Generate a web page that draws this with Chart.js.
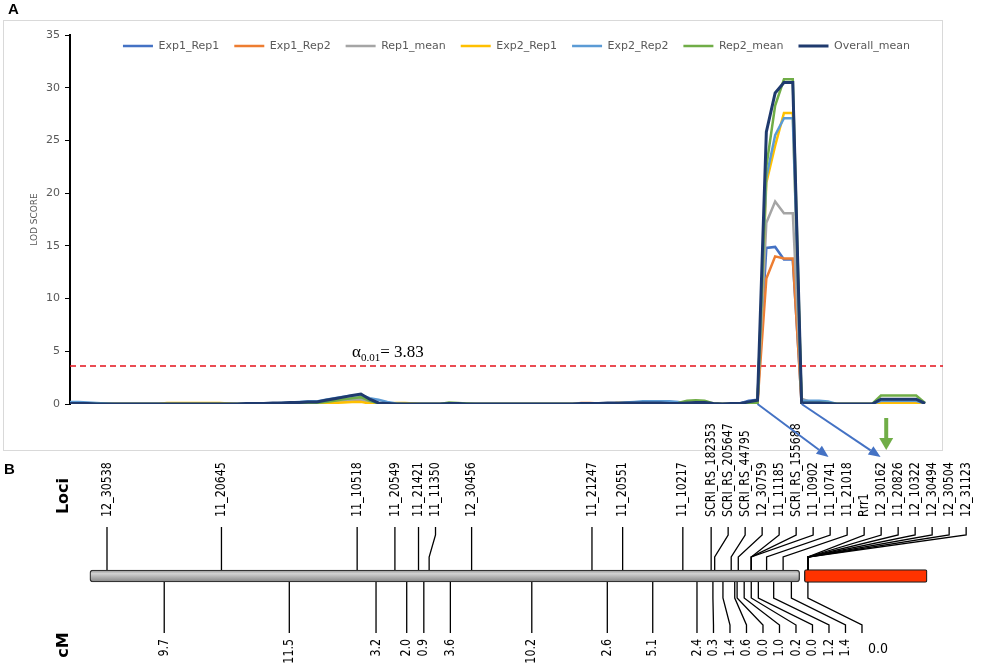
<!DOCTYPE html>
<html>
<head>
<meta charset="utf-8">
<script src="https://cdn.jsdelivr.net/npm/chart.js@4.4.0/dist/chart.umd.min.js"></script>
<style>
body { margin: 0; background: #fff; width: 1000px; height: 668px; position: relative; overflow: hidden; }
#box { position: absolute; left: 3px; top: 20px; width: 938px; height: 429px; border: 1px solid #d9d9d9; }
#top { position: absolute; left: 0; top: 0; width: 1000px; height: 470px; }
#bottom { position: absolute; left: 0; top: 400px; width: 1000px; height: 268px; }
.panel { position: absolute; font: bold 15px "Liberation Sans", Arial, sans-serif; color: #000; }
</style>
</head>
<body>
<div id="box"></div>
<div id="bottom"><canvas id="mapChart"></canvas></div>
<div id="top"><canvas id="lodChart"></canvas></div>
<div class="panel" style="left:8px;top:0px">A</div>
<div class="panel" style="left:4px;top:460px">B</div>
<script>
// ---- LOD profile (A) : 98 scan positions ----
var exp1_rep1 = [
    0, 0, 0, 0, 0, 0, 0, 0, 0, 0, 0, 0, 0, 0,
    0, 0, 0, 0, 0, 0, 0, 0, 0, 0, 0, 0.05, 0.1, 0.1,
    0.1, 0.2, 0.3, 0.4, 0.45, 0.5, 0.2, 0.05, 0, 0, 0, 0, 0, 0,
    0, 0, 0, 0, 0, 0, 0, 0, 0, 0, 0, 0, 0, 0,
    0, 0, 0, 0, 0, 0.05, 0.05, 0.05, 0.05, 0.05, 0, 0, 0, 0,
    0, 0, 0, 0, 0, 0, 0.05, 0.3, 0.4, 14.8, 14.9, 13.7, 13.7, 0.1,
    0.05, 0, 0, 0, 0, 0, 0, 0, 0.3, 0.3, 0.3, 0.3, 0.3, 0
];
var exp1_rep2 = [
    0, 0, 0, 0, 0, 0, 0, 0, 0, 0, 0, 0, 0, 0,
    0, 0, 0, 0, 0, 0, 0, 0, 0, 0, 0, 0, 0.05, 0.05,
    0.05, 0.1, 0.2, 0.25, 0.35, 0.4, 0.1, 0, 0, 0, 0, 0, 0, 0,
    0, 0, 0, 0, 0, 0, 0, 0, 0, 0, 0, 0, 0, 0,
    0, 0, 0.1, 0.1, 0.05, 0, 0, 0, 0, 0, 0, 0, 0, 0,
    0, 0, 0, 0, 0, 0, 0, 0.05, 0.1, 11.9, 14.0, 13.8, 13.8, 0,
    0, 0, 0, 0, 0, 0, 0, 0, 0.2, 0.2, 0.2, 0.2, 0.2, 0
];
var rep1_mean = [
    0, 0, 0, 0, 0, 0, 0, 0, 0, 0, 0, 0, 0, 0,
    0, 0, 0, 0, 0, 0, 0, 0, 0, 0, 0, 0.05, 0.05, 0.05,
    0.1, 0.15, 0.25, 0.3, 0.4, 0.45, 0.15, 0.05, 0, 0, 0, 0, 0, 0,
    0, 0, 0, 0, 0, 0, 0, 0, 0, 0, 0, 0, 0, 0,
    0, 0, 0.05, 0.05, 0.05, 0.05, 0.05, 0, 0, 0, 0, 0, 0, 0,
    0, 0, 0, 0, 0, 0, 0.05, 0.15, 0.25, 17.2, 19.2, 18.1, 18.1, 0.5,
    0.2, 0.05, 0, 0, 0, 0, 0, 0, 0.25, 0.25, 0.25, 0.25, 0.25, 0
];
var exp2_rep1 = [
    0, 0, 0, 0, 0, 0, 0, 0, 0, 0, 0, 0.1, 0.1, 0.1,
    0.1, 0.1, 0.1, 0.1, 0.05, 0, 0, 0, 0, 0, 0, 0, 0, 0,
    0, 0.05, 0.1, 0.15, 0.2, 0.2, 0.05, 0, 0.05, 0.1, 0.1, 0.05, 0, 0,
    0, 0, 0, 0, 0, 0, 0, 0, 0, 0, 0, 0, 0, 0,
    0, 0, 0, 0, 0, 0, 0.1, 0.1, 0.1, 0.1, 0.1, 0.1, 0, 0,
    0, 0, 0, 0, 0, 0, 0, 0, 0.05, 21.0, 24.5, 27.6, 27.6, 0,
    0, 0, 0, 0, 0, 0, 0, 0, 0.05, 0.05, 0.05, 0.05, 0.05, 0
];
var exp2_rep2 = [
    0.2, 0.2, 0.15, 0.1, 0.05, 0, 0, 0, 0, 0, 0, 0, 0, 0,
    0, 0, 0, 0, 0, 0, 0, 0, 0, 0.05, 0.1, 0.15, 0.2, 0.25,
    0.25, 0.4, 0.55, 0.7, 0.8, 0.85, 0.55, 0.4, 0.2, 0.05, 0, 0, 0, 0,
    0, 0, 0, 0, 0, 0, 0, 0, 0, 0, 0, 0, 0, 0,
    0, 0, 0, 0, 0, 0, 0.05, 0.15, 0.2, 0.25, 0.25, 0.25, 0.25, 0.2,
    0.05, 0, 0, 0, 0, 0, 0.05, 0.2, 0.3, 21.5, 25.5, 27.1, 27.1, 0.3,
    0.3, 0.3, 0.25, 0, 0, 0, 0, 0, 0.3, 0.3, 0.3, 0.3, 0.3, 0.05
];
var rep2_mean = [
    0, 0, 0, 0, 0, 0, 0, 0, 0, 0, 0, 0, 0, 0,
    0, 0, 0, 0, 0, 0, 0, 0, 0, 0, 0, 0, 0.05, 0.05,
    0.1, 0.2, 0.3, 0.45, 0.55, 0.65, 0.3, 0.05, 0, 0, 0, 0, 0, 0,
    0, 0.15, 0.1, 0.05, 0, 0, 0, 0, 0, 0, 0, 0, 0, 0,
    0, 0, 0, 0, 0, 0, 0, 0, 0, 0, 0, 0, 0, 0.1,
    0.3, 0.35, 0.3, 0.05, 0, 0, 0, 0.05, 0.1, 22.5, 28.3, 30.8, 30.8, 0.1,
    0.1, 0.1, 0.1, 0, 0, 0, 0, 0, 0.8, 0.8, 0.8, 0.8, 0.8, 0.1
];
var overall_mean = [
    0.05, 0.05, 0.05, 0, 0, 0, 0, 0, 0, 0, 0, 0, 0, 0,
    0, 0, 0, 0, 0, 0, 0.05, 0.05, 0.05, 0.1, 0.1, 0.15, 0.15, 0.2,
    0.2, 0.35, 0.5, 0.65, 0.8, 0.95, 0.45, 0.1, 0.05, 0, 0, 0, 0, 0,
    0, 0.05, 0.05, 0, 0, 0, 0, 0, 0, 0, 0, 0, 0, 0,
    0, 0, 0.05, 0.05, 0.05, 0.1, 0.1, 0.1, 0.1, 0.1, 0.1, 0.1, 0.05, 0.05,
    0.1, 0.15, 0.15, 0.05, 0, 0.05, 0.05, 0.2, 0.35, 25.8, 29.5, 30.5, 30.5, 0.1,
    0.1, 0.1, 0.05, 0, 0, 0, 0, 0, 0.45, 0.45, 0.45, 0.45, 0.45, 0.05
];
var series_names = ['Exp1_Rep1', 'Exp1_Rep2', 'Rep1_mean', 'Exp2_Rep1', 'Exp2_Rep2', 'Rep2_mean', 'Overall_mean'];
var series_colors = ['#4472C4', '#ED7D31', '#A5A5A5', '#FFC000', '#5B9BD5', '#70AD47', '#1F3A6E'];
var threshold = 3.6;          // where the dashed line sits in the figure
var threshold_text = '3.83';
var alpha_at = 32;            // scan position where the alpha label starts
var arrow_from = [78, 83];    // peak flanks the blue arrows start from
var green_arrow_at = 92.6;

// ---- linkage map (B) ----
var loci_names = ['12_30538', '11_20645', '11_10518', '11_20549', '11_21421', '11_11350', '12_30456',
    '11_21247', '11_20551', '11_10217', 'SCRI_RS_182353', 'SCRI_RS_205647', 'SCRI_RS_44795',
    '12_30759', '11_11185', 'SCRI_RS_155688', '11_10902', '11_10741', '11_21018', 'Rrr1',
    '12_30162', '11_20826', '12_10322', '12_30494', '12_30504', '12_31123'];
var loci_cm = [0, 9.7, 21.2, 24.4, 26.4, 27.3, 30.9, 41.1, 43.7, 48.8, 51.2, 51.5, 52.9,
    53.5, 54.6, 54.6, 54.6, 55.9, 57.3, 59.4, 59.4, 59.4, 59.4, 59.4, 59.4, 59.4];
var interval_labels = ['9.7', '11.5', '3.2', '2.0', '0.9', '3.6', '10.2', '2.6', '5.1', '2.4', '0.3',
    '1.4', '0.6', '0.0', '1.0', '0.2', '0.0', '1.2', '1.4', '0.0'];
var interval_cm = [4.85, 15.45, 22.8, 25.4, 26.85, 29.1, 36.0, 42.4, 46.25, 50.0, 51.35, 52.2,
    53.2, 53.4, 54.0, 54.6, 55.2, 56.5, 58.0, 59.4];
var chromosome = [-1.45, 58.7];
var rrr1_region = [59.1, 69.5];

Chart.defaults.font.family = '"DejaVu Sans", sans-serif';
Chart.defaults.animation = false;

function spread(desired, gap) {
    var out = [];
    desired.forEach(function (d, i) {
        out.push(i ? Math.max(d, out[i - 1] + gap) : d);
    });
    return out;
}

function arrow(ctx, x1, y1, x2, y2, color, w, head, headW) {
    var ang = Math.atan2(y2 - y1, x2 - x1);
    var bx = x2 - head * Math.cos(ang), by = y2 - head * Math.sin(ang);
    ctx.strokeStyle = color;
    ctx.fillStyle = color;
    ctx.lineWidth = w;
    ctx.beginPath();
    ctx.moveTo(x1, y1);
    ctx.lineTo(bx, by);
    ctx.stroke();
    ctx.beginPath();
    ctx.moveTo(x2, y2);
    ctx.lineTo(bx + headW / 2 * Math.sin(ang), by - headW / 2 * Math.cos(ang));
    ctx.lineTo(bx - headW / 2 * Math.sin(ang), by + headW / 2 * Math.cos(ang));
    ctx.closePath();
    ctx.fill();
}

//-------------
//- LOD CHART -
//-------------
var lodExtras = {
    id: 'lodExtras',
    afterLayout: function (chart) {
        // legend sits inside the plot, like the Excel original
        var lg = chart.legend;
        lg.top -= 8.5;
        lg.height = 40;
        lg.bottom = lg.top + 40;
    },
    beforeDatasetsDraw: function (chart) {
        var ctx = chart.ctx, a = chart.chartArea;
        var ty = chart.scales.y.getPixelForValue(threshold);
        ctx.save();
        ctx.strokeStyle = '#E3121B';
        ctx.lineWidth = 1.5;
        ctx.setLineDash([6, 4]);
        ctx.beginPath();
        ctx.moveTo(a.left, ty);
        ctx.lineTo(a.right + 18, ty);
        ctx.stroke();
        ctx.restore();
    },
    afterDraw: function (chart) {
        var ctx = chart.ctx, xs = chart.scales.x, ys = chart.scales.y;
        var ty = ys.getPixelForValue(threshold), y0 = ys.getPixelForValue(0);
        ctx.save();
        // alpha label
        var x = xs.getPixelForValue(alpha_at), base = ty - 9;
        ctx.fillStyle = '#000';
        ctx.textBaseline = 'alphabetic';
        ctx.textAlign = 'left';
        ctx.font = '17px "Liberation Serif", "DejaVu Serif", serif';
        ctx.fillText('\u03b1', x, base);
        x += ctx.measureText('\u03b1').width;
        ctx.font = '11px "Liberation Serif", "DejaVu Serif", serif';
        ctx.fillText('0.01', x, base + 4);
        x += ctx.measureText('0.01').width;
        ctx.font = '17px "Liberation Serif", "DejaVu Serif", serif';
        ctx.fillText('= ' + threshold_text, x, base);
        // arrows to the map
        var p1 = xs.getPixelForValue(arrow_from[0]), p2 = xs.getPixelForValue(arrow_from[1]);
        arrow(ctx, p1, y0, p1 + 71, y0 + 53, '#4472C4', 2, 12, 10);
        arrow(ctx, p2, y0, p2 + 79, y0 + 53, '#4472C4', 2, 12, 10);
        var g = xs.getPixelForValue(green_arrow_at);
        arrow(ctx, g, y0 + 14, g, y0 + 46, '#70AD47', 4, 12, 14);
        ctx.restore();
    }
};

var lodCanvas = document.getElementById('lodChart').getContext('2d');
var lodData = [exp1_rep1, exp1_rep2, rep1_mean, exp2_rep1, exp2_rep2, rep2_mean, overall_mean];

new Chart(lodCanvas, {
    type: 'line',
    data: {
        labels: overall_mean.map(function (v, i) { return i; }),
        datasets: lodData.map(function (d, i) {
            return {
                label: series_names[i],
                data: d,
                borderColor: series_colors[i],
                backgroundColor: series_colors[i],
                borderWidth: i === 6 ? 3 : 2.5,
                pointRadius: 0,
                tension: 0,
                order: 7 - i
            };
        })
    },
    options: {
        responsive: true,
        maintainAspectRatio: false,
        events: [],
        layout: { padding: { left: 22, right: 75, top: 34, bottom: 66 } },
        scales: {
            x: { type: 'category', display: false },
            y: {
                min: 0,
                max: 35,
                afterFit: function (s) { s.width = 48; },
                ticks: { stepSize: 5, color: '#595959', font: { size: 11 }, padding: 5 },
                grid: { drawOnChartArea: false, drawTicks: true, tickLength: 5, color: '#000' },
                border: { display: true, color: '#000', width: 2 },
                title: { display: true, text: 'LOD SCORE', color: '#595959', font: { size: 9 }, padding: { top: 7, bottom: 0 } }
            }
        },
        plugins: {
            tooltip: { enabled: false },
            legend: {
                position: 'top',
                fullSize: false,
                align: 'end',
                maxHeight: 1,
                labels: {
                    usePointStyle: true,
                    pointStyle: 'line',
                    pointStyleWidth: 30,
                    padding: 15,
                    color: '#595959',
                    font: { size: 11 },
                    sort: function (a, b) { return a.datasetIndex - b.datasetIndex; }
                }
            }
        }
    },
    plugins: [lodExtras]
});

//-------------
//-  MAP      -
//-------------
var mapLabels = {
    id: 'mapLabels',
    afterDatasetsDraw: function (chart) {
        var ctx = chart.ctx, xs = chart.scales.x;
        var bar = chart.getDatasetMeta(0).data[0];
        var yc = bar.y, top = yc - bar.height / 2, bot = yc + bar.height / 2;
        var lociX = loci_cm.map(function (v) { return xs.getPixelForValue(v); });
        var lociLX = spread(lociX, 17);
        var cmX = interval_cm.map(function (v) { return xs.getPixelForValue(v); });
        var cmLX = spread(cmX, 16.5);

        ctx.save();
        ctx.strokeStyle = '#000';
        ctx.fillStyle = '#000';
        ctx.lineWidth = 1.3;
        ctx.font = '14px "DejaVu Sans Condensed", "DejaVu Sans", sans-serif';
        loci_names.forEach(function (name, i) {
            var lx = lociLX[i], bx = lociX[i];
            ctx.beginPath();
            ctx.moveTo(lx, top - 43);
            ctx.lineTo(lx, top - 35);
            ctx.lineTo(bx, top - 13);
            ctx.lineTo(bx, top);
            ctx.stroke();
            ctx.save();
            ctx.translate(lx, top - 53);
            ctx.rotate(-Math.PI / 2);
            ctx.scale(0.88, 1);
            ctx.textAlign = 'left';
            ctx.textBaseline = 'middle';
            ctx.fillText(name, 0, 0);
            ctx.restore();
        });

        interval_labels.forEach(function (txt, i) {
            var lx = cmLX[i], bx = cmX[i];
            ctx.beginPath();
            ctx.moveTo(bx, bot);
            ctx.lineTo(bx, bot + 16);
            ctx.lineTo(lx, bot + 43);
            ctx.lineTo(lx, bot + 51);
            ctx.stroke();
            if (i === interval_labels.length - 1) {
                ctx.textAlign = 'left';
                ctx.textBaseline = 'alphabetic';
                ctx.fillText(txt, lx + 6, bot + 71);
            } else {
                ctx.save();
                ctx.translate(lx, bot + 57);
                ctx.rotate(-Math.PI / 2);
                ctx.scale(0.88, 1);
                ctx.textAlign = 'right';
                ctx.textBaseline = 'middle';
                ctx.fillText(txt, 0, 0);
                ctx.restore();
            }
        });

        ctx.font = 'bold 16px "DejaVu Sans", sans-serif';
        ctx.textAlign = 'center';
        ctx.textBaseline = 'middle';
        [['Loci', yc - 80], ['cM', yc + 69]].forEach(function (t) {
            ctx.save();
            ctx.translate(64, t[1]);
            ctx.rotate(-Math.PI / 2);
            ctx.fillText(t[0], 0, 0);
            ctx.restore();
        });
        ctx.restore();
    }
};

var mapCanvas = document.getElementById('mapChart').getContext('2d');

new Chart(mapCanvas, {
    type: 'bar',
    data: {
        labels: ['LG'],
        datasets: [{
            label: 'chromosome',
            data: [chromosome],
            grouped: false,
            barThickness: 12,
            borderWidth: 1.3,
            borderColor: '#333',
            borderSkipped: false,
            borderRadius: 3,
            backgroundColor: function (c) {
                var ch = c.chart;
                if (!ch.chartArea) return '#a6a6a6';
                var y = ch.scales.y.getPixelForValue(0);
                var g = ch.ctx.createLinearGradient(0, y - 6, 0, y + 6);
                g.addColorStop(0, '#8f8f8f');
                g.addColorStop(0.3, '#d2d2d2');
                g.addColorStop(0.6, '#b0b0b0');
                g.addColorStop(1, '#858585');
                return g;
            }
        }, {
            label: 'Rrr1 region',
            data: [rrr1_region],
            grouped: false,
            barThickness: 13,
            borderWidth: 1.3,
            borderColor: '#222',
            borderSkipped: false,
            borderRadius: 2,
            backgroundColor: '#FF3300'
        }]
    },
    options: {
        indexAxis: 'y',
        responsive: true,
        maintainAspectRatio: false,
        events: [],
        layout: { padding: { left: 0, right: 0, top: 84, bottom: 0 } },
        scales: {
            x: { type: 'linear', min: -9.068, max: 75.68, display: false },
            y: { type: 'category', display: false }
        },
        plugins: {
            legend: { display: false },
            tooltip: { enabled: false }
        }
    },
    plugins: [mapLabels]
});
</script>
</body>
</html>
